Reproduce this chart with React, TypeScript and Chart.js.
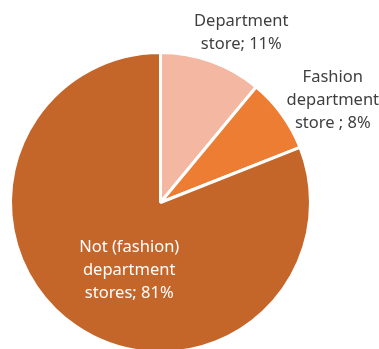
import React, { useEffect, useRef } from "react";
import { Chart, registerables } from "chart.js";

Chart.register(...registerables);

const categories = ["Department store", "Fashion department store", "Not (fashion) department stores"];
const shares = [11, 8, 81];
const labelLines = [
  ["Department", "store; 11%"],
  ["Fashion", "department", "store ; 8%"],
  ["Not (fashion)", "department", "stores; 81%"],
];
const colors = ["#F4B7A1", "#ED7D33", "#C4652A"];
const labelColors = ["#3F3F3F", "#3F3F3F", "#FFFFFF"];
// placement of each label: polar from pie centre (angle tweak in degrees, radius factor)
const labelPlacement = [
  { dAngle: 5.5, rf: 1.26, dy: 1.5 },
  { dAngle: 5.0, rf: 1.34, dy: 1.5 },
  { dAngle: -9.0, rf: 0.49, dy: 1.5 },
];

const FONT = '"Noto Sans", "Open Sans", sans-serif';

const labelPlugin = {
  id: "sliceLabels",
  afterDatasetsDraw(chart: any) {
    const ctx = chart.ctx;
    const meta = chart.getDatasetMeta(0);
    meta.data.forEach((arc: any, i: number) => {
      const p = arc.getProps(["x", "y", "startAngle", "endAngle", "outerRadius"], true);
      const mid = (p.startAngle + p.endAngle) / 2 + (labelPlacement[i].dAngle * Math.PI) / 180;
      const r = p.outerRadius * labelPlacement[i].rf;
      const cx = p.x + Math.cos(mid) * r;
      const cy = p.y + Math.sin(mid) * r + labelPlacement[i].dy;
      const lines = labelLines[i];
      const lh = 23;
      ctx.save();
      ctx.font = `16.5px ${FONT}`;
      ctx.fillStyle = labelColors[i];
      ctx.textAlign = "center";
      ctx.textBaseline = "middle";
      lines.forEach((ln, k) => {
        ctx.fillText(ln, cx, cy + (k - (lines.length - 1) / 2) * lh);
      });
      ctx.restore();
    });
  },
};

export default function App() {
  const ref = useRef<HTMLCanvasElement>(null);
  useEffect(() => {
    document.body.style.margin = "0";
    const chart = new Chart(ref.current!, {
      type: "pie",
      data: {
        labels: categories,
        datasets: [
          {
            data: shares,
            backgroundColor: colors,
            borderColor: "#FFFFFF",
            borderWidth: 3,
          },
        ],
      },
      options: {
        responsive: false,
        animation: false,
        layout: { padding: { left: 9, right: 67, top: 51, bottom: 46 } },
        plugins: {
          legend: { display: false },
          tooltip: { enabled: false },
        },
      },
      plugins: [labelPlugin],
    });
    return () => chart.destroy();
  }, []);
  return (
    <div style={{ position: "fixed", left: 0, top: 0, width: 379, height: 349, overflow: "hidden", background: "#fff" }}>
      <canvas ref={ref} width={379} height={400} style={{ display: "block" }} />
    </div>
  );
}
